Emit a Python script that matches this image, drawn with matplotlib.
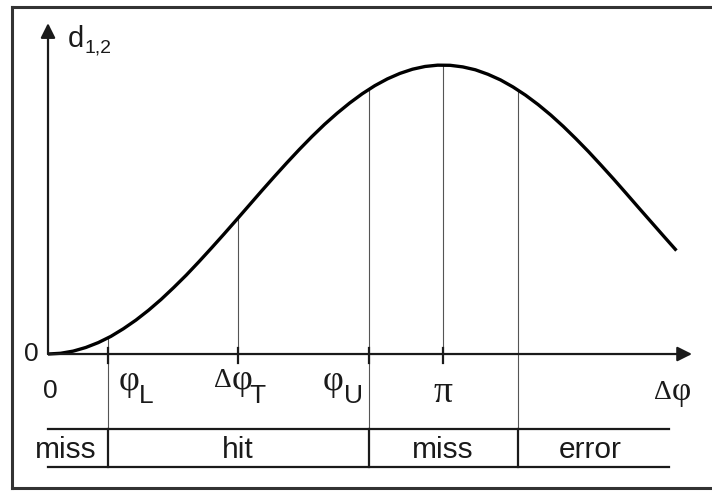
import numpy as np
import matplotlib
matplotlib.use("Agg")
import matplotlib.pyplot as plt

SANS = "Liberation Sans"
SERIF = "Liberation Serif"

# d(phase difference), every 0.1 rad
dphi = [0.0, 0.1, 0.2, 0.3, 0.4, 0.5, 0.6, 0.7, 0.8, 0.9,
        1.0, 1.1, 1.2, 1.3, 1.4, 1.5, 1.6, 1.7, 1.8, 1.9,
        2.0, 2.1, 2.2, 2.3, 2.4, 2.5, 2.6, 2.7, 2.8, 2.9,
        3.0, 3.1, 3.2, 3.3, 3.4, 3.5, 3.6, 3.7, 3.8, 3.9,
        4.0, 4.1, 4.2, 4.3, 4.4, 4.5, 4.6, 4.7, 4.8, 4.9, 5.0]
d12 = [0.0, 0.005, 0.02, 0.045, 0.079, 0.122, 0.175, 0.235, 0.303, 0.378,
       0.46, 0.546, 0.638, 0.733, 0.83, 0.929, 1.029, 1.129, 1.227, 1.323,
       1.416, 1.505, 1.589, 1.666, 1.737, 1.801, 1.857, 1.904, 1.942, 1.971,
       1.99, 1.999, 1.998, 1.987, 1.967, 1.936, 1.897, 1.848, 1.791, 1.726,
       1.654, 1.575, 1.49, 1.401, 1.307, 1.211, 1.112, 1.012, 0.913, 0.814,
       0.716]

# marked phases: phi_L, dphi_T, phi_U, pi, start of error zone
marks = [0.48, 1.51, 2.55, np.pi, 3.74]
mark_d = [0.11, 0.94, 1.83, 2.0, 1.83]
mark_tick = [True, True, True, True, False]
mark_to_table = [True, False, True, False, True]

zones = ["miss", "hit", "miss", "error"]
zone_x = [0.14, 1.51, 3.14, 4.31]

table_top, table_bot, table_end = -0.52, -0.78, 4.94
x_tip, y_tip = 5.124, 2.29

fig = plt.figure(figsize=(7.12, 4.91), dpi=100)

# layout layer in pixels (outer frame)
lay = fig.add_axes([0, 0, 1, 1])
lay.set_xlim(0, 712)
lay.set_ylim(491, 0)
lay.axis("off")
fc = "#333333"
lay.plot([11.5, 11.5], [7, 487.5], color=fc, lw=2.2, solid_capstyle="projecting")
lay.plot([11.5, 720], [7, 7], color=fc, lw=2.2, solid_capstyle="projecting")
lay.plot([11.5, 720], [487.5, 487.5], color=fc, lw=2.2, solid_capstyle="projecting")

ax = fig.add_axes([0, 0, 1, 1])
ax.patch.set_alpha(0)
ax.set_xlim(-0.382, 5.283)
ax.set_ylim(-0.948, 2.450)
ax.axis("off")

# axes with arrows
arrow = dict(arrowstyle="-|>", lw=1.6, color="#1a1a1a", mutation_scale=22,
             shrinkA=0, shrinkB=0)
ax.annotate("", xy=(x_tip, 0), xytext=(0, 0), arrowprops=arrow)
ax.annotate("", xy=(0, y_tip), xytext=(0, 0), arrowprops=arrow)

# vertical marker lines and ticks
for x, top, tick, deep in zip(marks, mark_d, mark_tick, mark_to_table):
    bottom = table_top if deep else 0
    ax.plot([x, x], [bottom, top], color="#555555", lw=0.8)
    if tick:
        ax.plot([x, x], [-0.062, 0.045], color="#1a1a1a", lw=1.6)
    if deep:
        ax.plot([x, x], [table_bot, table_top], color="#1a1a1a", lw=1.6)

ax.plot(dphi, d12, color="black", lw=2.4, solid_capstyle="butt",
        solid_joinstyle="round")

# zone table
for y in (table_top, table_bot):
    ax.plot([0, table_end], [y, y], color="#1a1a1a", lw=1.6)
for name, x in zip(zones, zone_x):
    ax.text(x, -0.72, name, ha="center", va="baseline", fontsize=21.5,
            family=SANS, color="#1a1a1a")


def piece(anchor, s, dx, dy, size, family, ha="left"):
    ax.annotate(s, xy=anchor, xytext=(dx, dy), textcoords="offset pixels",
                ha=ha, va="baseline", fontsize=size, family=family,
                color="#1a1a1a")


origin = (0, 0)
ax.annotate("0", xy=origin, xytext=(-17, 0), textcoords="offset pixels",
            ha="center", va="center", fontsize=19, family=SANS, color="#1a1a1a")
ax.annotate("0", xy=origin, xytext=(2, -37), textcoords="offset pixels",
            ha="center", va="center", fontsize=19, family=SANS, color="#1a1a1a")

# phi_L
piece((marks[0], 0), "φ", 31, -36, 26, SERIF, ha="right")
piece((marks[0], 0), "L", 31, -49, 19, SANS)
# delta phi_T
piece((marks[1], 0), "Δ", -6, -33, 20, SERIF, ha="right")
piece((marks[1], 0), "φ", -6, -35, 26, SERIF)
piece((marks[1], 0), "T", 12, -49, 19, SANS)
# phi_U
piece((marks[2], 0), "φ", -25, -36, 26, SERIF, ha="right")
piece((marks[2], 0), "U", -25, -49, 19, SANS)
# pi
piece((marks[3], 0), "π", 0, -48, 27, SERIF, ha="center")
# axis names
piece((x_tip, 0), "Δ", -20, -45, 20, SERIF, ha="right")
piece((x_tip, 0), "φ", -20, -46, 24, SERIF)
piece((0, y_tip), "d", 36, -24, 21, SANS, ha="right")
piece((0, y_tip), "1,2", 36, -29, 14, SANS)

fig.savefig("out.png", dpi=100)
